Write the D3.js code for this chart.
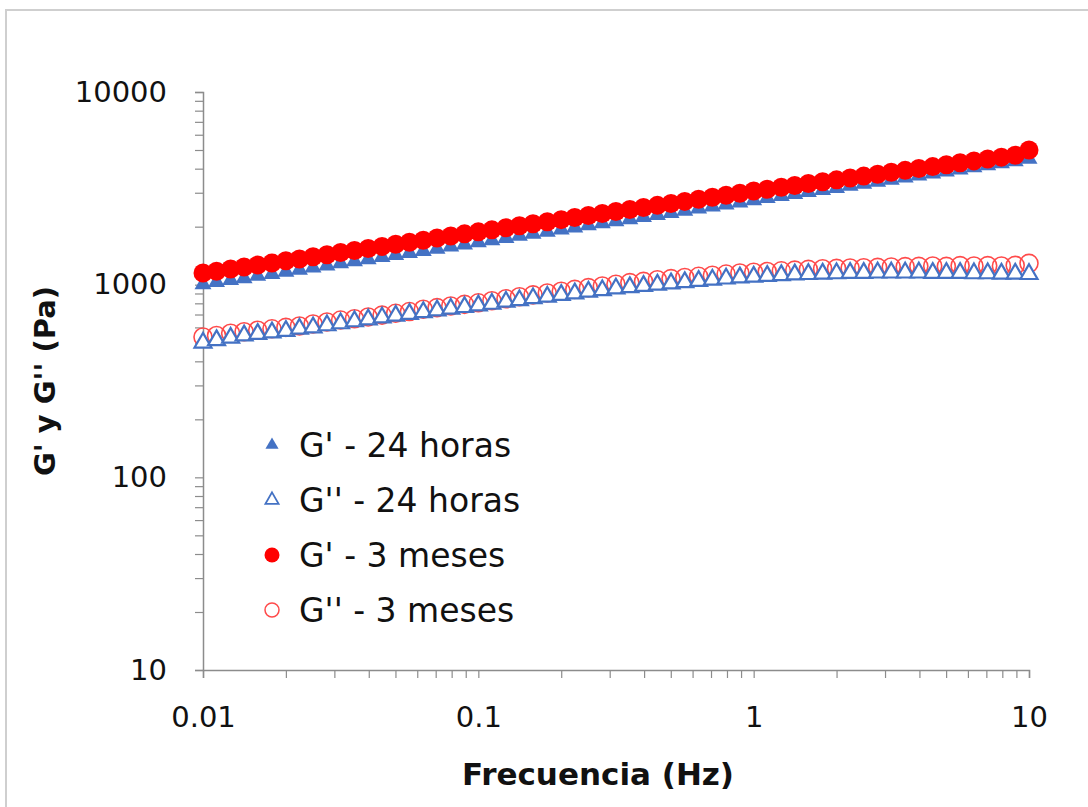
<!DOCTYPE html>
<html>
<head>
<meta charset="utf-8">
<script src="https://cdn.jsdelivr.net/npm/d3@7"></script>
<style>
  body { margin: 0; background: #fff; }
  svg { display: block; }
</style>
</head>
<body>
<svg width="1088" height="807"></svg>
<script>
// frequency sweep, Hz (20 points per decade)
const freq = [
  0.01, 0.0112, 0.0126, 0.0141, 0.0158, 0.0178, 0.02, 0.0224, 0.0251, 0.0282,
  0.0316, 0.0355, 0.0398, 0.0447, 0.0501, 0.0562, 0.0631, 0.0708, 0.0794, 0.0891,
  0.1, 0.112, 0.126, 0.141, 0.158, 0.178, 0.2, 0.224, 0.251, 0.282,
  0.316, 0.355, 0.398, 0.447, 0.501, 0.562, 0.631, 0.708, 0.794, 0.891,
  1, 1.12, 1.26, 1.41, 1.58, 1.78, 2, 2.24, 2.51, 2.82,
  3.16, 3.55, 3.98, 4.47, 5.01, 5.62, 6.31, 7.08, 7.94, 8.91,
  10
];

// G' 24 horas
const gp24 = [
  1005, 1030, 1055, 1080, 1110, 1135, 1165, 1195, 1225, 1255,
  1290, 1320, 1355, 1390, 1425, 1460, 1495, 1535, 1575, 1615,
  1660, 1700, 1745, 1790, 1835, 1880, 1930, 1980, 2030, 2080,
  2130, 2185, 2240, 2300, 2355, 2415, 2480, 2540, 2605, 2670,
  2740, 2810, 2880, 2950, 3025, 3100, 3175, 3255, 3335, 3420,
  3505, 3590, 3680, 3770, 3865, 3960, 4060, 4160, 4265, 4370,
  4500
];

// G'' 24 horas
const gpp24 = [
  500, 515, 530, 545, 555, 565, 575, 590, 600, 615,
  630, 645, 660, 675, 690, 705, 720, 735, 750, 765,
  780, 795, 815, 830, 850, 865, 885, 900, 920, 935,
  955, 970, 985, 1000, 1015, 1030, 1045, 1060, 1075, 1090,
  1100, 1110, 1120, 1130, 1135, 1140, 1145, 1150, 1150, 1155,
  1155, 1155, 1155, 1150, 1150, 1150, 1145, 1145, 1140, 1140,
  1135
];

// G' 3 meses
const gp3m = [
  1150, 1175, 1205, 1235, 1265, 1295, 1330, 1360, 1395, 1430,
  1470, 1505, 1540, 1580, 1620, 1660, 1700, 1745, 1790, 1835,
  1880, 1925, 1975, 2020, 2070, 2120, 2175, 2230, 2285, 2340,
  2395, 2455, 2515, 2580, 2640, 2705, 2775, 2840, 2910, 2985,
  3060, 3130, 3200, 3270, 3350, 3420, 3500, 3580, 3660, 3745,
  3830, 3920, 4010, 4100, 4190, 4290, 4390, 4490, 4590, 4700,
  5000
];

// G'' 3 meses
const gpp3m = [
  535, 545, 560, 570, 580, 590, 600, 610, 625, 640,
  655, 665, 680, 695, 710, 725, 745, 760, 775, 790,
  805, 825, 845, 865, 885, 905, 925, 945, 965, 985,
  1005, 1025, 1040, 1060, 1075, 1090, 1105, 1120, 1135, 1150,
  1160, 1170, 1180, 1190, 1200, 1210, 1215, 1220, 1225, 1230,
  1235, 1240, 1245, 1250, 1245, 1255, 1250, 1255, 1250, 1260,
  1290
];

const legendLabels = ["G' - 24 horas", "G'' - 24 horas", "G' - 3 meses", "G'' - 3 meses"];
const xMajor = [0.01, 0.1, 1, 10];
const yMajor = [10, 100, 1000, 10000];

const blue = '#4472c4';
const red = '#ff0000';
const lightRed = '#ff4a4a';
const axisColor = '#8c8c8c';
const font = 'DejaVu Sans, sans-serif';

const svg = d3.select('svg');

svg.append('rect')
    .attr('x', 6).attr('y', 10)
    .attr('width', 1200).attr('height', 1000)
    .attr('fill', '#fff')
    .attr('stroke', '#cfcfcf')
    .attr('stroke-width', 2);

const x = d3.scaleLog().domain([0.01, 10]).range([203, 1029]);
const y = d3.scaleLog().domain([10, 10000]).range([670, 92]);

// all log ticks (1..9 per decade)
const xTicks = x.ticks();
const yTicks = y.ticks();

const xAxis = d3.axisBottom(x)
    .tickValues(xTicks)
    .tickSize(8)
    .tickPadding(28)
    .tickFormat(d => xMajor.includes(d) ? d3.format('~g')(d) : '');

const yAxis = d3.axisLeft(y)
    .tickValues(yTicks)
    .tickSize(8)
    .tickPadding(28)
    .tickFormat(d => yMajor.includes(d) ? d3.format('d')(d) : '');

const gx = svg.append('g')
    .attr('transform', 'translate(0,670)')
    .call(xAxis);

const gy = svg.append('g')
    .attr('transform', 'translate(203,0)')
    .call(yAxis);

[gx, gy].forEach(g => {
  g.select('.domain').attr('stroke', axisColor).attr('stroke-width', 1.5);
  g.selectAll('.tick line').attr('stroke', axisColor).attr('stroke-width', 1.2);
  g.selectAll('.tick text')
      .attr('fill', '#111')
      .style('font-family', font)
      .style('font-size', '29px');
});

svg.append('text')
    .attr('x', 598).attr('y', 785)
    .attr('text-anchor', 'middle')
    .style('font-family', font)
    .style('font-weight', 'bold')
    .style('font-size', '31px')
    .attr('fill', '#111')
    .text('Frecuencia (Hz)');

svg.append('text')
    .attr('transform', 'translate(55,381) rotate(-90)')
    .attr('text-anchor', 'middle')
    .style('font-family', font)
    .style('font-weight', 'bold')
    .style('font-size', '29px')
    .attr('fill', '#111')
    .text("G' y G'' (Pa)");

const pts = vals => freq.map((f, i) => ({ f, v: vals[i] }));
const tri = d3.symbol().type(d3.symbolTriangle).size(125);
const triSmall = d3.symbol().type(d3.symbolTriangle).size(75);

const plot = svg.append('g');

// G' 24 horas - filled triangles
plot.append('g').selectAll('path')
    .data(pts(gp24))
    .join('path')
    .attr('d', tri)
    .attr('transform', d => `translate(${x(d.f)},${y(d.v)})`)
    .attr('fill', blue);

// G' 3 meses - filled circles
plot.append('g').selectAll('circle')
    .data(pts(gp3m))
    .join('circle')
    .attr('cx', d => x(d.f))
    .attr('cy', d => y(d.v))
    .attr('r', 9.5)
    .attr('fill', red);

// G'' 3 meses - open circles
plot.append('g').selectAll('circle')
    .data(pts(gpp3m))
    .join('circle')
    .attr('cx', d => x(d.f))
    .attr('cy', d => y(d.v))
    .attr('r', 9)
    .attr('fill', 'none')
    .attr('stroke', lightRed)
    .attr('stroke-width', 1.6);

// G'' 24 horas - open triangles
plot.append('g').selectAll('path')
    .data(pts(gpp24))
    .join('path')
    .attr('d', tri)
    .attr('transform', d => `translate(${x(d.f)},${y(d.v)})`)
    .attr('fill', '#fff')
    .attr('stroke', blue)
    .attr('stroke-width', 2.2);

// legend
const legend = svg.append('g');
const rowY = [445, 500, 555, 610];
legendLabels.forEach((label, i) => {
  const cy = rowY[i];
  if (i === 0) {
    legend.append('path').attr('d', triSmall).attr('transform', `translate(272,${cy})`).attr('fill', blue);
  } else if (i === 1) {
    legend.append('path').attr('d', triSmall).attr('transform', `translate(272,${cy})`)
        .attr('fill', '#fff').attr('stroke', blue).attr('stroke-width', 1.8);
  } else if (i === 2) {
    legend.append('circle').attr('cx', 272).attr('cy', cy).attr('r', 7.5).attr('fill', red);
  } else {
    legend.append('circle').attr('cx', 272).attr('cy', cy).attr('r', 7)
        .attr('fill', 'none').attr('stroke', lightRed).attr('stroke-width', 1.5);
  }
  legend.append('text')
      .attr('x', 299).attr('y', cy)
      .attr('dy', '0.36em')
      .style('font-family', font)
      .style('font-size', '33px')
      .attr('fill', '#111')
      .text(label);
});
</script>
</body>
</html>
